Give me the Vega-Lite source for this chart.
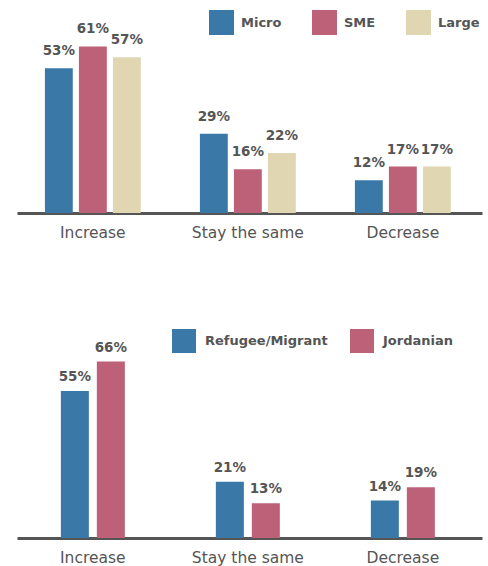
{
  "$schema": "https://vega.github.io/schema/vega-lite/v6.json",
  "padding": {"left": 17, "top": 0, "right": 6, "bottom": 0},
  "autosize": {"type": "pad"},
  "config": {"view": {"stroke": null}, "font": "DejaVu Sans"},
  "spacing": 59,
  "vconcat": [
    {
      "width": 465,
      "height": 213,
      "data": {"values": [
        {"change": "Increase", "size": "Micro", "pct": 0.53},
        {"change": "Increase", "size": "SME", "pct": 0.61},
        {"change": "Increase", "size": "Large", "pct": 0.57},
        {"change": "Stay the same", "size": "Micro", "pct": 0.29},
        {"change": "Stay the same", "size": "SME", "pct": 0.16},
        {"change": "Stay the same", "size": "Large", "pct": 0.22},
        {"change": "Decrease", "size": "Micro", "pct": 0.12},
        {"change": "Decrease", "size": "SME", "pct": 0.17},
        {"change": "Decrease", "size": "Large", "pct": 0.17}
      ]},
      "encoding": {
        "x": {"field": "change", "type": "nominal", "sort": ["Increase", "Stay the same", "Decrease"],
          "scale": {"paddingInner": 0.355, "paddingOuter": 0.1775, "align": 0.47},
          "axis": {"title": null, "labelAngle": 0, "domainColor": "#555555", "domainWidth": 3, "ticks": false,
            "labelFontSize": 15.5, "labelColor": "#555555", "labelPadding": 12}},
        "xOffset": {"field": "size", "type": "nominal", "sort": ["Micro", "SME", "Large"],
          "scale": {"paddingInner": 0.18, "paddingOuter": 0.06}},
        "y": {"field": "pct", "type": "quantitative", "scale": {"domain": [0, 0.78]}, "axis": null}
      },
      "layer": [
        {
          "mark": {"type": "bar"},
          "encoding": {
            "color": {"field": "size", "type": "nominal", "sort": ["Micro", "SME", "Large"],
              "scale": {"domain": ["Micro", "SME", "Large"], "range": ["#3A78A7", "#BD6179", "#E0D6B1"]},
              "legend": {"title": null, "orient": "none", "legendX": 192, "legendY": 10, "direction": "horizontal",
                "symbolType": "square", "symbolSize": 625, "symbolStrokeWidth": 0, "symbolOpacity": 1,
                "labelFontSize": 13, "labelFontWeight": "bold", "labelColor": "#555555", "labelOffset": 7,
                "columnPadding": 30, "padding": 0}}
          }
        },
        {
          "mark": {"type": "text", "dy": -13, "baseline": "alphabetic", "fontWeight": "bold", "fontSize": 13.5, "color": "#555555"},
          "encoding": {"text": {"field": "pct", "type": "quantitative", "format": ".0%"}}
        }
      ]
    },
    {
      "width": 465,
      "height": 238,
      "data": {"values": [
        {"change": "Increase", "group": "Refugee/Migrant", "pct": 0.55},
        {"change": "Increase", "group": "Jordanian", "pct": 0.66},
        {"change": "Stay the same", "group": "Refugee/Migrant", "pct": 0.21},
        {"change": "Stay the same", "group": "Jordanian", "pct": 0.13},
        {"change": "Decrease", "group": "Refugee/Migrant", "pct": 0.14},
        {"change": "Decrease", "group": "Jordanian", "pct": 0.19}
      ]},
      "encoding": {
        "x": {"field": "change", "type": "nominal", "sort": ["Increase", "Stay the same", "Decrease"],
          "scale": {"paddingInner": 0.355, "paddingOuter": 0.1775, "align": 0.47},
          "axis": {"title": null, "labelAngle": 0, "domainColor": "#555555", "domainWidth": 3, "ticks": false,
            "labelFontSize": 15.5, "labelColor": "#555555", "labelPadding": 12}},
        "xOffset": {"field": "group", "type": "nominal", "sort": ["Refugee/Migrant", "Jordanian"],
          "scale": {"paddingInner": 0.222, "paddingOuter": 0.5}},
        "y": {"field": "pct", "type": "quantitative", "scale": {"domain": [0, 0.89]}, "axis": null}
      },
      "layer": [
        {
          "mark": {"type": "bar"},
          "encoding": {
            "color": {"field": "group", "type": "nominal", "sort": ["Refugee/Migrant", "Jordanian"],
              "scale": {"domain": ["Refugee/Migrant", "Jordanian"], "range": ["#3A78A7", "#BD6179"]},
              "legend": {"title": null, "orient": "none", "legendX": 155, "legendY": 29, "direction": "horizontal",
                "symbolType": "square", "symbolSize": 576, "symbolStrokeWidth": 0, "symbolOpacity": 1,
                "labelFontSize": 13, "labelFontWeight": "bold", "labelColor": "#555555", "labelOffset": 9,
                "columnPadding": 22, "padding": 0}}
          }
        },
        {
          "mark": {"type": "text", "dy": -10, "baseline": "alphabetic", "fontWeight": "bold", "fontSize": 13.5, "color": "#555555"},
          "encoding": {"text": {"field": "pct", "type": "quantitative", "format": ".0%"}}
        }
      ]
    }
  ],
  "resolve": {"scale": {"color": "independent", "x": "independent", "xOffset": "independent", "y": "independent"}, "legend": {"color": "independent"}}
}
